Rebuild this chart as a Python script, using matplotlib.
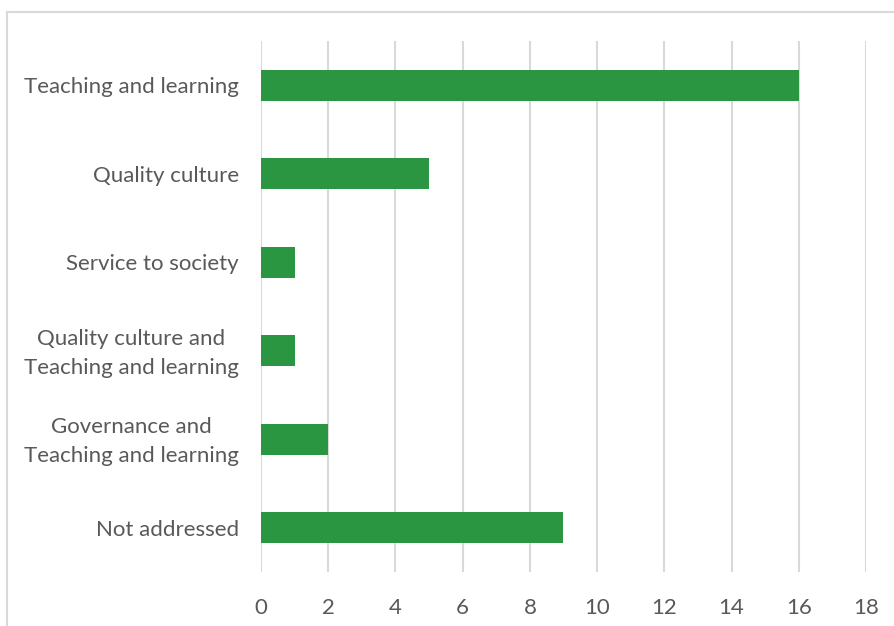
import matplotlib.pyplot as plt
from matplotlib.lines import Line2D
from matplotlib.transforms import ScaledTranslation

categories = ['Teaching and learning', 'Quality culture', 'Service to society',
              'Quality culture and\nTeaching and learning',
              'Governance and\nTeaching and learning', 'Not addressed']
counts = [16, 5, 1, 1, 2, 9]
xticks = [0, 2, 4, 6, 8, 10, 12, 14, 16, 18]

plt.rcParams['font.family'] = ['Lato', 'DejaVu Sans']
text_col = '#595959'
grid_col = '#D9D9D9'

fig = plt.figure(figsize=(8.95, 6.26), dpi=100)
ax = fig.add_axes([261 / 895, 1 - 572 / 626, 605 / 895, 531 / 626])

ypos = list(range(len(categories)))
ax.barh(ypos, counts, height=0.35, color='#2B9641', zorder=3)
ax.set_ylim(len(categories) - 0.5, -0.5)
ax.set_xlim(0, 18)
ax.set_xticks(xticks)
ax.set_yticks(ypos)
ax.set_yticklabels(categories, ha='right', multialignment='center', linespacing=1.55)
ax.tick_params(axis='both', length=0, labelsize=16, labelcolor=text_col)
ax.tick_params(axis='x', pad=19)
ax.tick_params(axis='y', pad=16)
ax.grid(axis='x', color=grid_col, linewidth=1.5, zorder=0)
for s in ax.spines.values():
    s.set_visible(False)

# two-line labels sit a little high, nudge them up
for lab in ax.get_yticklabels():
    if '\n' in lab.get_text():
        lab.set_transform(lab.get_transform() + ScaledTranslation(0, 4 / 100, fig.dpi_scale_trans))

# outer chart frame, only the left and top edges fall inside the image
fig.add_artist(Line2D([7.5 / 895, 7.5 / 895], [0, 1 - 11.5 / 626],
                      transform=fig.transFigure, color=grid_col, linewidth=1.5))
fig.add_artist(Line2D([7.5 / 895, 1], [1 - 11.5 / 626, 1 - 11.5 / 626],
                      transform=fig.transFigure, color=grid_col, linewidth=1.5))

fig.savefig('out.png', dpi=100)
